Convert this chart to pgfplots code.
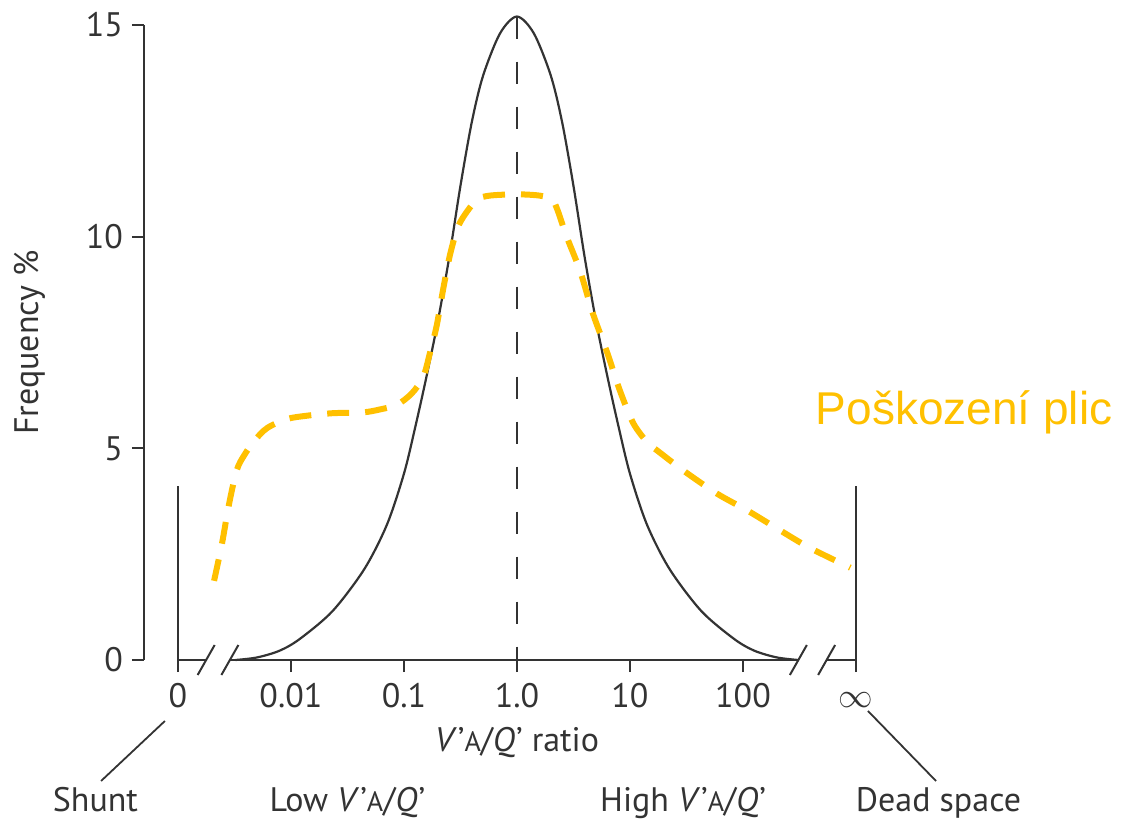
\documentclass[border=0pt]{standalone}
\usepackage{fontspec}
\setmainfont{PT Sans}
\newfontfamily\arialfont{Liberation Sans}
\usepackage{pgfplots}
\pgfplotsset{compat=1.18}
\definecolor{gold}{HTML}{FFC000}
\definecolor{ink}{HTML}{333333}
\newcommand{\VQ}{\textit{V}\kern0.5pt'{\fontsize{14}{14}\selectfont A}/\textit{Q}\kern0.5pt'}
\begin{document}
\begin{tikzpicture}[font=\fontsize{17}{20}\selectfont, text=ink]
\begin{axis}[
  name=ax, scale only axis,
  width=356pt, height=317.5pt,
  xmin=-3.3, xmax=3, ymin=0, ymax=15,
  clip=false,
  axis y line*=left, axis x line*=bottom,
  x axis line style={draw=none},
  y axis line style={line width=1pt, ink},
  xtick={-3,-2,-1,0,1,2,3},
  xticklabels={0,0.01,0.1,1.0,10,100,{\vphantom{0}\fontsize{16}{16}\selectfont$\infty$}},
  ytick={0,5,10,15},
  tick align=outside, major tick length=6pt,
  tick style={line width=1pt, ink},
  /pgf/number format/assume math mode=true,
  yticklabel style={xshift=-1pt},
  xticklabel style={yshift=-2pt},
]
% normal distribution
\addplot[smooth, ink, line width=1.1pt] coordinates {
  (-2.49,0) (-2.3,0.06) (-2.1,0.22) (-1.92,0.5) (-1.63,1.16) (-1.35,2.15)
  (-1.15,3.2) (-1.0,4.4) (-0.9,5.5) (-0.8,6.7) (-0.7,8.0) (-0.6,9.5)
  (-0.5,11.2) (-0.4,12.7) (-0.3,13.8) (-0.15,14.8) (0,15.2)
  (0.15,14.8) (0.3,13.8) (0.4,12.7) (0.5,11.2) (0.6,9.5) (0.7,8.0)
  (0.8,6.7) (0.9,5.5) (1.0,4.4) (1.15,3.2) (1.35,2.15) (1.63,1.16)
  (1.92,0.5) (2.1,0.22) (2.3,0.06) (2.49,0)
};
% lung damage
\addplot[smooth, gold, line width=3pt, dash pattern=on 11pt off 8pt] coordinates {
  (-2.68,1.87) (-2.61,2.75) (-2.55,3.65) (-2.48,4.48) (-2.41,4.85)
  (-2.32,5.19) (-2.21,5.48) (-2.04,5.69) (-1.86,5.77) (-1.63,5.83)
  (-1.36,5.85) (-1.21,5.92) (-1.06,6.03) (-0.93,6.30) (-0.83,6.68)
  (-0.77,7.25) (-0.71,7.9) (-0.65,8.8) (-0.59,9.6) (-0.52,10.24)
  (-0.44,10.6) (-0.35,10.88) (-0.24,10.97) (0,11.0) (0.20,10.97)
  (0.31,10.88) (0.36,10.62) (0.44,10.0) (0.56,9.18) (0.67,8.2)
  (0.80,7.25) (0.91,6.37) (1.03,5.59) (1.16,5.12) (1.24,4.95)
  (1.47,4.48) (1.77,3.93) (2.04,3.53) (2.33,3.06) (2.59,2.65) (2.95,2.18)
};
% broken x axis
\draw[ink, line width=1pt] (axis cs:-3,0) -- (axis cs:-2.75,0);
\draw[ink, line width=1pt] (axis cs:-2.54,0) -- (axis cs:2.49,0);
\draw[ink, line width=1pt] (axis cs:2.74,0) -- (axis cs:3,0);
\draw[ink, line width=1pt] ([shift={(-4.25pt,-7.5pt)}]axis cs:-2.75,0) -- ([shift={(4.25pt,7.5pt)}]axis cs:-2.75,0);
\draw[ink, line width=1pt] ([shift={(-4.25pt,-7.5pt)}]axis cs:-2.54,0) -- ([shift={(4.25pt,7.5pt)}]axis cs:-2.54,0);
\draw[ink, line width=1pt] ([shift={(-4.25pt,-7.5pt)}]axis cs:2.49,0) -- ([shift={(4.25pt,7.5pt)}]axis cs:2.49,0);
\draw[ink, line width=1pt] ([shift={(-4.25pt,-7.5pt)}]axis cs:2.74,0) -- ([shift={(4.25pt,7.5pt)}]axis cs:2.74,0);
\draw[ink, line width=1pt] (axis cs:-3,0) -- (axis cs:-3,4.12);
\draw[ink, line width=1pt] (axis cs:3,0) -- (axis cs:3,4.12);
\draw[ink, line width=0.9pt, dash pattern=on 11pt off 11.5pt] (axis cs:0,15.2) -- (axis cs:0,0);
% labels
\node[rotate=90] at ([xshift=-57pt]rel axis cs:0,0.5) {Frequency \%};
\node at ([yshift=-41.5pt]axis cs:0,0) {\VQ{} ratio};
\node[anchor=base] at ([yshift=-75.5pt]axis cs:-3.73,0) {Shunt};
\node[anchor=base] at ([yshift=-75.5pt]axis cs:-1.50,0) {Low \VQ};
\node[anchor=base] at ([yshift=-75.5pt]axis cs:1.47,0) {High \VQ};
\node[anchor=base] at ([yshift=-75.5pt]axis cs:3.73,0) {Dead space};
\draw[ink, line width=0.9pt] ([yshift=-30.5pt]axis cs:-3.115,0) -- ([yshift=-60.5pt]axis cs:-3.68,0);
\draw[ink, line width=0.9pt] ([yshift=-25.5pt]axis cs:3.106,0) -- ([yshift=-60.5pt]axis cs:3.708,0);
\node[anchor=base, text=gold, font=\arialfont\fontsize{23}{26}\selectfont] at ([yshift=117.5pt]axis cs:3.956,0) {Poškození plic};
\end{axis}
\pgfresetboundingbox
\path ([shift={(-72pt,-81.5pt)}]ax.south west) rectangle ([shift={(489.5pt,330pt)}]ax.south west);
\end{tikzpicture}
\end{document}
